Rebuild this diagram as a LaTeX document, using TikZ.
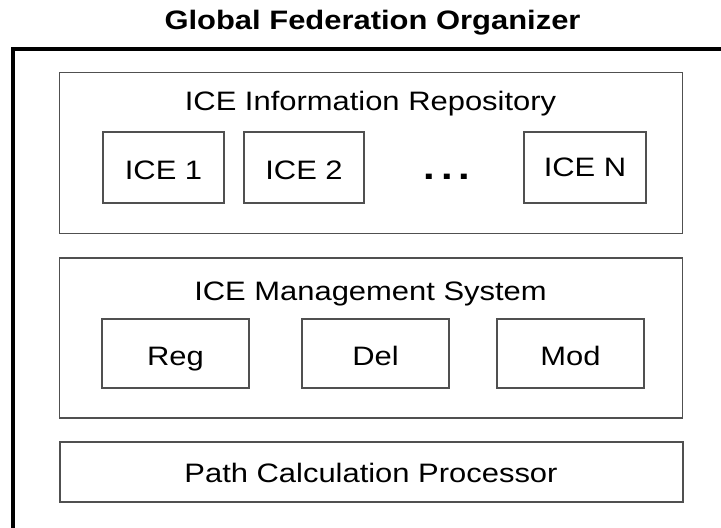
\documentclass[tikz,border=0pt]{standalone}
\usepackage{fontspec}
\setmainfont{Liberation Sans}[FakeStretch=1.16]
\definecolor{edgegray}{RGB}{80,80,80}
\begin{document}
\begin{tikzpicture}[x=0.75pt,y=-0.75pt,
  every node/.style={inner sep=0pt, outer sep=0pt},
  sz/.style 2 args={minimum width=#1*0.75pt, minimum height=#2*0.75pt},
  frame/.style={draw=edgegray, line width=1.1pt, anchor=north west},
  txt/.style={anchor=base, font=\fontsize{20}{24}\selectfont},
]
\clip (0,0) rectangle (721,528);
\fill[white] (0,0) rectangle (721,528);

% title and the outer organizer frame (runs off the right and bottom)
\node[txt, font=\fontsize{20}{24}\selectfont\bfseries] (title) at (372.5,30) {Global Federation Organizer};
\node[draw=black, line width=3pt, anchor=north west, sz={800}{600}] (gfo) at (13,49) {};

% ICE information repository
\node[frame, sz={623}{161}] (repo) at (59.5,72.5) {};
\node[txt] (repoT) at (370.5,111) {ICE Information Repository};
\node[frame, sz={121}{71}] (ice1) at (103,132) {};
\node[frame, sz={120}{71}] (ice2) at (244,132) {};
\node[frame, sz={122}{71}] (iceN) at (524,132) {};
\node[txt] (ice1T) at (163.5,179) {ICE 1};
\node[txt] (ice2T) at (304,179) {ICE 2};
\node[txt] (iceNT) at (585,176) {ICE N};
\node[txt, font=\fontsize{27}{28}\selectfont\bfseries] (dots) at (447,179) {.\kern4.5pt.\kern4.5pt.};

% ICE management system
\node[frame, sz={623}{160}] (mgmt) at (59.5,258) {};
\node[txt] (mgmtT) at (370.5,300) {ICE Management System};
\node[frame, sz={147}{69}] (reg) at (102,319) {};
\node[frame, sz={147}{69}] (del) at (302,319) {};
\node[frame, sz={147}{69}] (mod) at (497,319) {};
\node[txt] (regT) at (175.5,365) {Reg};
\node[txt] (delT) at (375.5,365) {Del};
\node[txt] (modT) at (570.5,365) {Mod};

% path calculation processor
\node[frame, sz={623}{60}] (path) at (60,442) {};
\node[txt] (pathT) at (371,482.5) {Path Calculation Processor};
\end{tikzpicture}
\end{document}
